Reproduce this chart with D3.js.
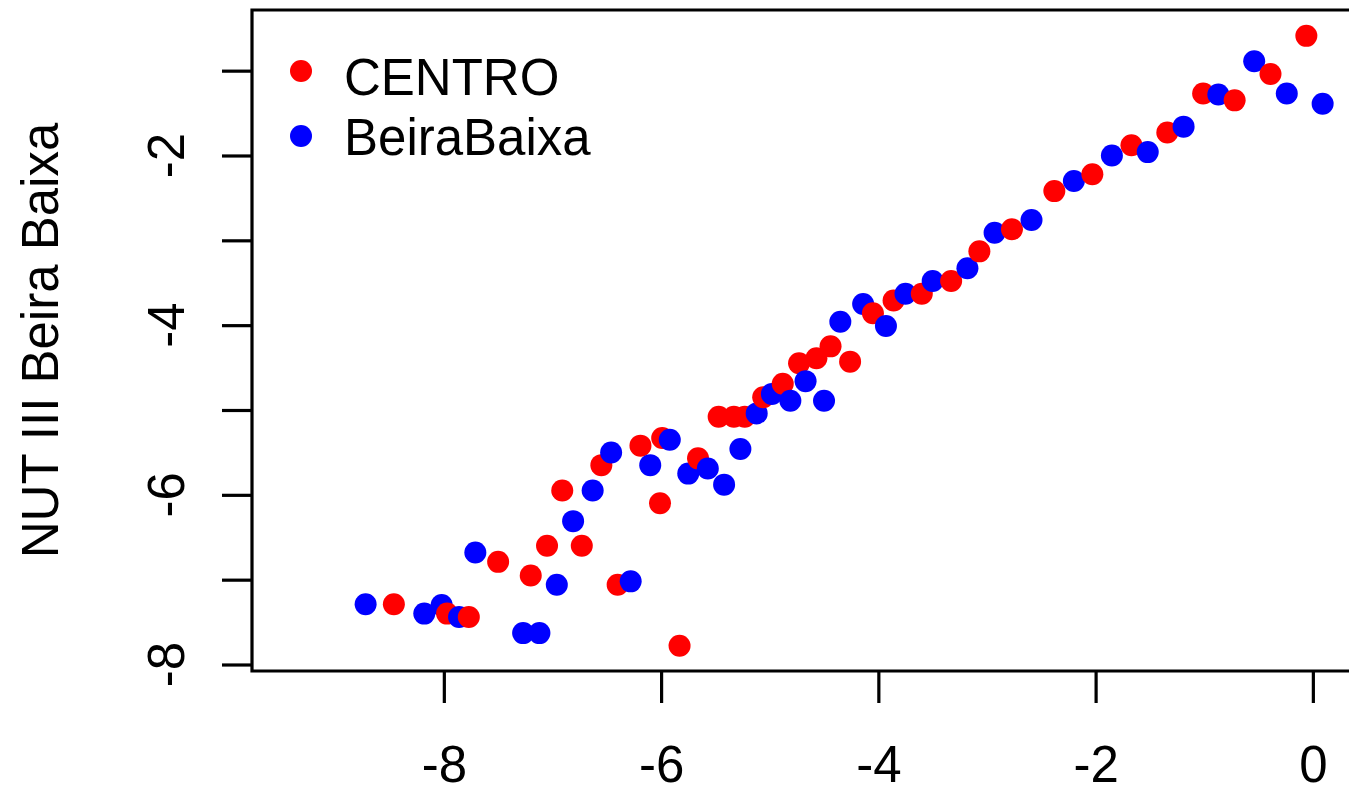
<!DOCTYPE html>
<html>
<head>
<meta charset="utf-8">
<script src="https://cdn.jsdelivr.net/npm/d3@7"></script>
<style>
  html, body { margin: 0; padding: 0; background: #fff; overflow: hidden; }
  svg { display: block; }
  text { font-family: "Liberation Sans", Arial, sans-serif; fill: #000; }
</style>
</head>
<body>
<svg id="chart" width="1349" height="785"></svg>
<script>
// CENTRO series
const centroX = [-8.46, -7.97, -7.77, -7.50, -7.20, -7.05, -6.91, -6.73, -6.55, -6.40,
  -6.19, -6.01, -5.99, -5.83, -5.66, -5.47, -5.33, -5.23, -5.06, -4.88,
  -4.73, -4.57, -4.44, -4.26, -4.05, -3.86, -3.60, -3.33, -3.07, -2.77,
  -2.38, -2.03, -1.67, -1.34, -1.01, -0.72, -0.39, -0.06];
const centroY = [-7.29, -7.40, -7.44, -6.79, -6.95, -6.60, -5.95, -6.60, -5.65, -7.06,
  -5.42, -6.10, -5.33, -7.78, -5.57, -5.08, -5.08, -5.08, -4.85, -4.69,
  -4.45, -4.39, -4.25, -4.43, -3.86, -3.71, -3.63, -3.48, -3.13, -2.87,
  -2.42, -2.22, -1.88, -1.73, -1.27, -1.35, -1.04, -0.59];

// Beira Baixa series
const beiraX = [-8.72, -8.18, -8.02, -7.86, -7.71, -7.27, -7.12, -6.96, -6.81, -6.63,
  -6.46, -6.28, -6.10, -5.92, -5.75, -5.57, -5.42, -5.27, -5.12, -4.98,
  -4.81, -4.67, -4.50, -4.35, -4.14, -3.93, -3.75, -3.50, -3.18, -2.93,
  -2.59, -2.20, -1.85, -1.52, -1.19, -0.87, -0.54, -0.24, 0.09];
const beiraY = [-7.29, -7.40, -7.30, -7.44, -6.68, -7.63, -7.63, -7.06, -6.31, -5.95,
  -5.50, -7.02, -5.65, -5.35, -5.75, -5.69, -5.88, -5.46, -5.04, -4.81,
  -4.89, -4.66, -4.89, -3.96, -3.75, -4.01, -3.63, -3.48, -3.33, -2.91,
  -2.76, -2.30, -2.00, -1.96, -1.66, -1.28, -0.89, -1.27, -1.39];

const seriesNames = ["CENTRO", "BeiraBaixa"];
const seriesColors = ["#ff0000", "#0000ff"];
const xTicks = [-8, -6, -4, -2, 0];
const yTicks = [-8, -7, -6, -5, -4, -3, -2, -1];
const yTickLabels = [-8, -6, -4, -2];
const yTitle = "NUT III Beira Baixa";

const svg = d3.select("#chart");
const plot = { left: 252, top: 10, bottom: 671, right: 1365 };

const x = d3.scaleLinear().domain([-9.766, 0.48]).range([plot.left, plot.right]);
const y = d3.scaleLinear().domain([-8.0766, -0.285]).range([plot.bottom, plot.top]);

const fontSize = 51;
const lw = 3.2;

// points: both series merged and drawn in x order
const pts = [];
centroX.forEach((v, i) => pts.push({ x: v, y: centroY[i], s: 0 }));
beiraX.forEach((v, i) => pts.push({ x: v, y: beiraY[i], s: 1 }));
pts.sort((a, b) => a.x - b.x);

svg.append("g").selectAll("circle").data(pts).join("circle")
  .attr("cx", d => x(d.x))
  .attr("cy", d => y(d.y))
  .attr("r", 11)
  .attr("fill", d => seriesColors[d.s]);

// plot frame (right edge runs past the canvas)
svg.append("path")
  .attr("d", `M${plot.right},${plot.top}H${plot.left}V${plot.bottom}H${plot.right}`)
  .attr("fill", "none").attr("stroke", "#000").attr("stroke-width", lw);

// x axis
const xAxis = d3.axisBottom(x).tickValues(xTicks).tickSize(32).tickPadding(0)
  .tickFormat(d3.format("d"));
const gx = svg.append("g").attr("transform", `translate(0,${plot.bottom})`).call(xAxis);
gx.select(".domain").remove();
gx.selectAll(".tick line").attr("stroke", "#000").attr("stroke-width", lw);
gx.selectAll(".tick text")
  .attr("y", 111).attr("dy", null)
  .attr("font-size", fontSize)
  .style("font-family", "'Liberation Sans', Arial, sans-serif")
  .text(d => d < 0 ? "-" + Math.abs(d) : d);

// y axis
const yAxis = d3.axisLeft(y).tickValues(yTicks).tickSize(30).tickFormat("");
const gy = svg.append("g").attr("transform", `translate(${plot.left},0)`).call(yAxis);
gy.select(".domain").remove();
gy.selectAll(".tick line").attr("stroke", "#000").attr("stroke-width", lw);

svg.append("g").selectAll("text").data(yTickLabels).join("text")
  .attr("transform", d => `translate(184,${y(d)}) rotate(-90)`)
  .attr("text-anchor", "middle")
  .attr("font-size", fontSize)
  .text(d => "-" + Math.abs(d));

// y title
svg.append("text")
  .attr("transform", `translate(58,${(plot.top + plot.bottom) / 2}) rotate(-90)`)
  .attr("text-anchor", "middle")
  .attr("font-size", fontSize)
  .text(yTitle);

// legend
const legendPointY = [71, 136];
const legendTextY = [95, 155];
const lg = svg.append("g");
seriesNames.forEach((name, i) => {
  lg.append("circle").attr("cx", 301).attr("cy", legendPointY[i]).attr("r", 11)
    .attr("fill", seriesColors[i]);
  lg.append("text").attr("x", 344).attr("y", legendTextY[i])
    .attr("font-size", fontSize).text(name);
});
</script>
</body>
</html>
